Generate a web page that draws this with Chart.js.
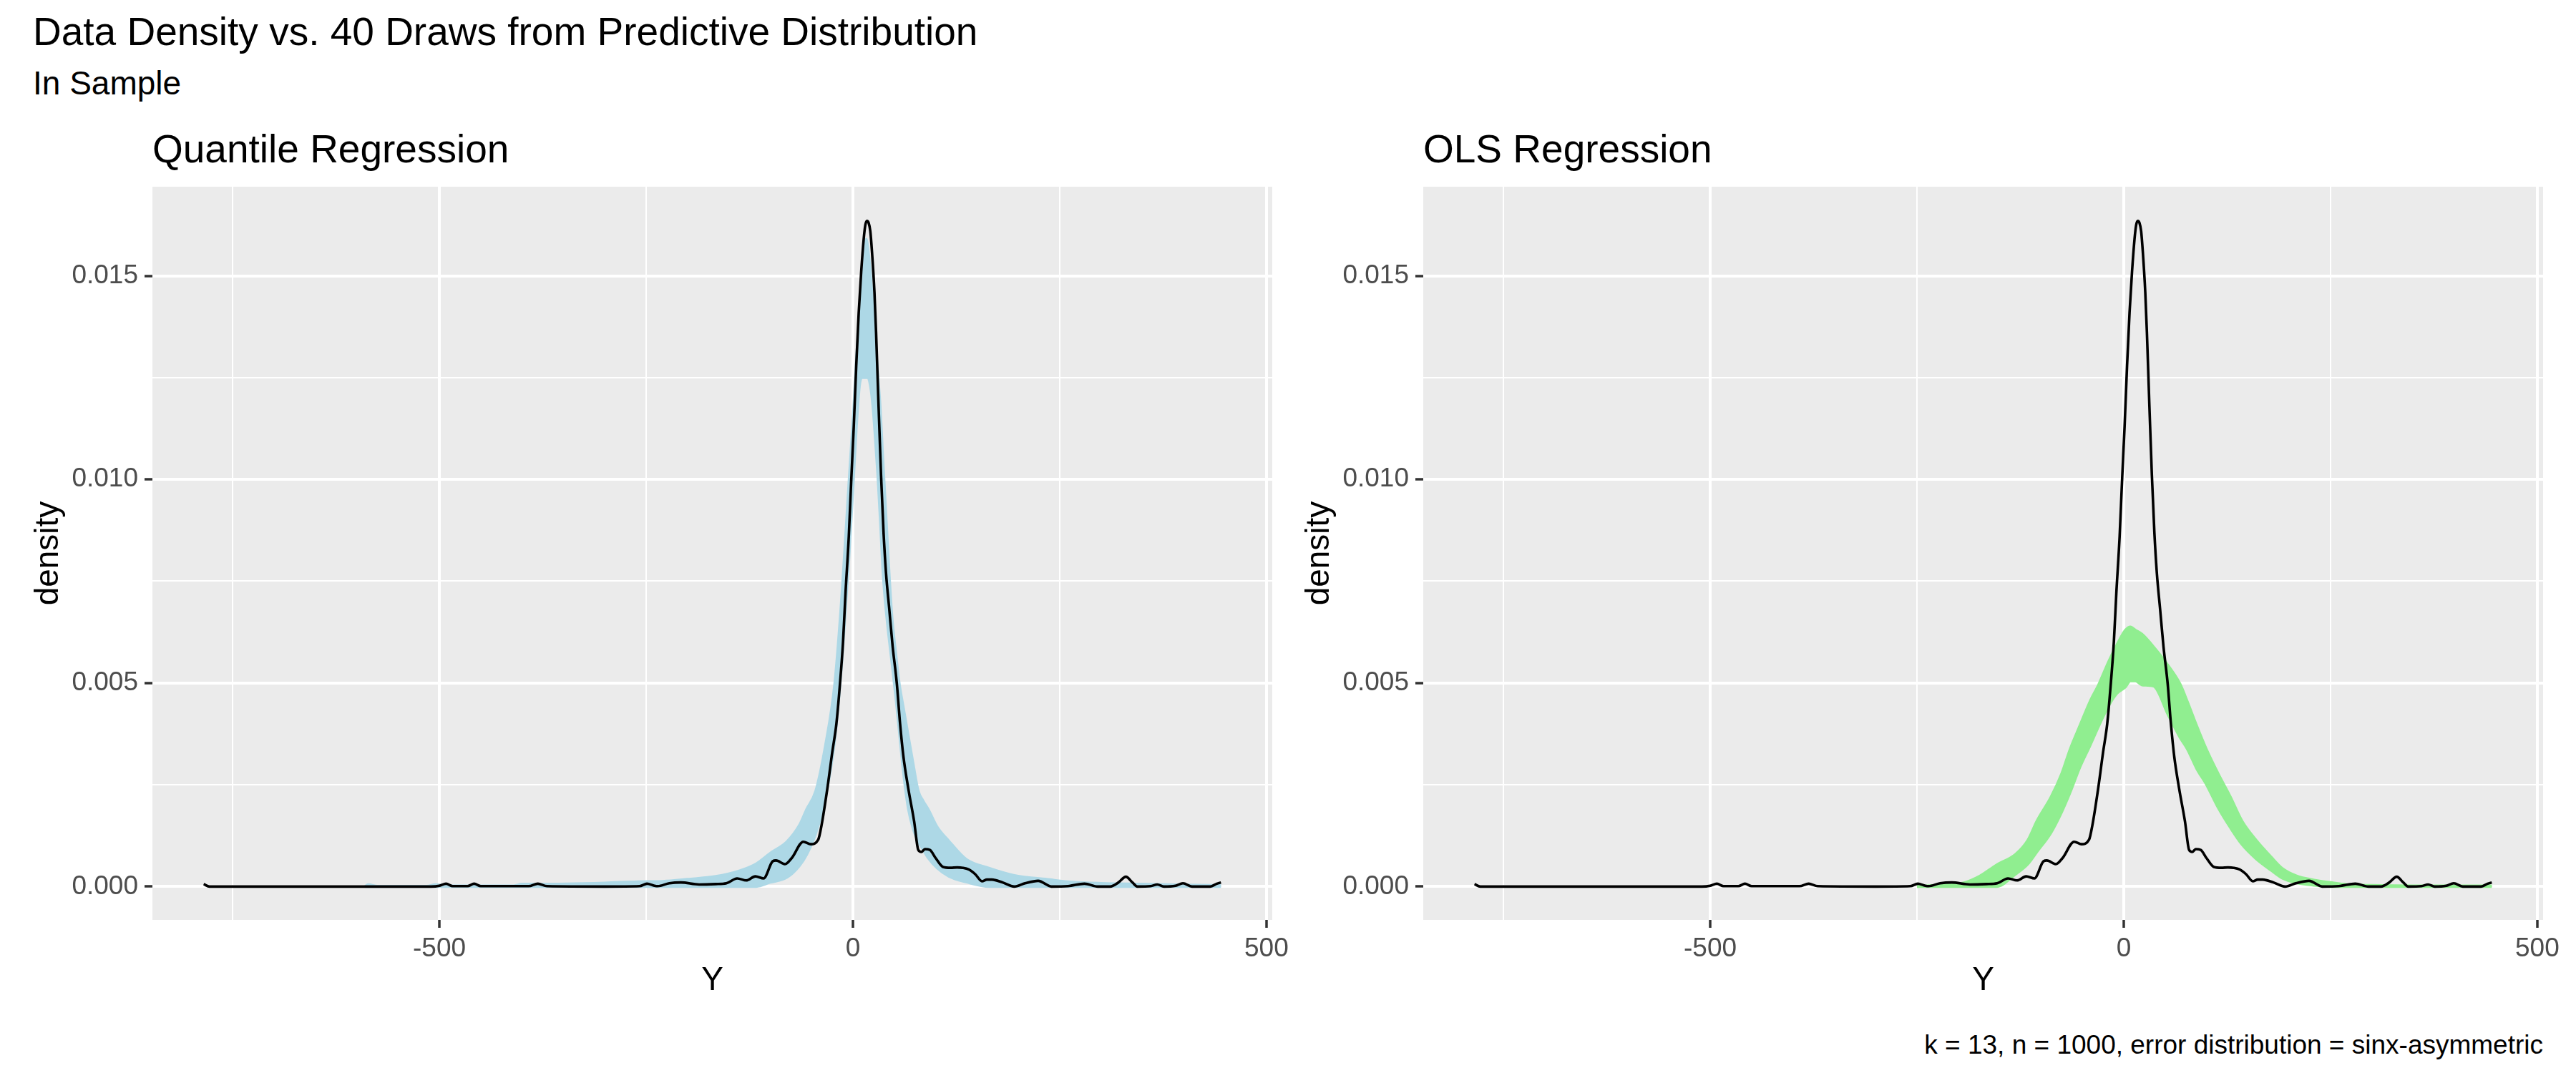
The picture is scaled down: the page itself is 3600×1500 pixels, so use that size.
<!DOCTYPE html>
<html>
<head>
<meta charset="utf-8">
<title>Data Density vs. 40 Draws from Predictive Distribution</title>
<script src="https://cdn.jsdelivr.net/npm/chart.js@4.4.1/dist/chart.umd.min.js"></script>
<style>
    html, body { margin: 0; padding: 0; background: #ffffff; }
    body {
        width: 3600px; height: 1500px; position: relative; overflow: hidden;
        font-family: "Liberation Sans", Arial, sans-serif; color: #000000;
    }
    .txt { position: absolute; white-space: nowrap; line-height: 1; }
    .title { left: 46px; top: 17px; font-size: 55px; }
    .subtitle { left: 46px; top: 93px; font-size: 46px; }
    .panel-title { top: 181px; font-size: 55px; }
    .caption { right: 46px; top: 1442px; font-size: 37px; }
    .chart-box { position: absolute; }
</style>
</head>
<body>
<div class="txt title">Data Density vs. 40 Draws from Predictive Distribution</div>
<div class="txt subtitle">In Sample</div>
<div class="txt panel-title" style="left:213px">Quantile Regression</div>
<div class="txt panel-title" style="left:1989px">OLS Regression</div>
<div class="chart-box" style="left:0px;top:240px;width:1800px;height:1180px"><canvas id="qr"></canvas></div>
<div class="chart-box" style="left:1780px;top:240px;width:1820px;height:1180px"><canvas id="ols"></canvas></div>
<div class="txt caption">k = 13, n = 1000, error distribution = sinx-asymmetric</div>

<script>
/* ---- data ---- */

// kernel density of the observed Y (black line, same in both panels)
const DENS_Y = [-785, -778, -700, -600, -510, -500, -492, -484, -466, -458, -450, -392, -381, -370,
    -300, -258, -249, -240, -236, -222, -208, -186, -166, -153, -140, -129, -118, -108, -97, -93,
    -82, -74, -60, -51, -42, -38, -31, -25, -20, -16, -12, -9, -5, -2, 1, 4, 7, 10, 13, 15, 17,
    19, 21, 23, 26, 28, 31, 34, 37, 40, 44, 48, 53, 57, 61, 67, 74, 79, 83, 87, 93, 100, 109,
    118, 126, 133, 140, 148, 156, 162, 168, 181, 195, 208, 224, 240, 260, 280, 296, 311, 321,
    330, 338, 344, 360, 368, 376, 390, 399, 410, 432, 440, 445];
const DENS_D = [0.00006, 0, 0, 0, 0, 0.00002, 0.00007, 0.00001, 0.00001, 0.00007, 0.00001, 0.00001,
    0.00007, 0.00001, 0, 0.00001, 0.00007, 0.00002, 0.00001, 0.00008, 0.0001, 0.00005, 0.00006,
    0.00008, 0.0002, 0.00015, 0.00025, 0.0002, 0.00062, 0.00064, 0.00055, 0.0007, 0.0011, 0.00104,
    0.00115, 0.0015, 0.0024, 0.0033, 0.004, 0.0049, 0.006, 0.0072, 0.0086, 0.01, 0.0113, 0.0128,
    0.0141, 0.0151, 0.0159, 0.01625, 0.01635, 0.0163, 0.0161, 0.0156, 0.0146, 0.0136, 0.0118,
    0.0101, 0.0087, 0.0077, 0.0068, 0.0059, 0.005, 0.004, 0.0032, 0.0024, 0.0016, 0.0009, 0.00085,
    0.00092, 0.0009, 0.0007, 0.00048, 0.00046, 0.00047, 0.00046, 0.00042, 0.0003, 0.00013, 0.00017,
    0.00017, 0.0001, 0, 0.00008, 0.00014, 0, 0.00001, 0.00007, 0, 0, 0.0001, 0.00024, 0.0001, 0,
    0.00001, 0.00005, 0, 0.00002, 0.00008, 0, 0, 0.00007, 0.0001];

// quantile regression draws: outer and inner edge of the 40 light blue curves
const QR_Y = [-590, -586, -575, -515, -505, -490, -410, -400, -380, -300, -260, -230, -200, -166,
    -137, -117, -100, -80, -65, -56, -45, -33, -22, -13, -5, 1, 4, 8, 11, 14, 16, 18, 21, 24, 27,
    30, 33, 36, 39, 43, 47, 52, 56, 61, 67, 73, 79, 85, 91, 102, 116, 137, 165, 194, 238, 266,
    300, 350, 400, 445];
const QR_HIGH = [0, 0.00005, 0.00001, 0.00001, 0.00005, 0.00002, 0.00002, 0.00006, 0.00006, 0.00009,
    0.00012, 0.00013, 0.00018, 0.00025, 0.00039, 0.00056, 0.00082, 0.0011, 0.0015, 0.0019, 0.00235,
    0.0035, 0.005, 0.0073, 0.0099, 0.0118, 0.0129, 0.014, 0.0148, 0.0156, 0.0159, 0.0157, 0.0151,
    0.0143, 0.0134, 0.0126, 0.0118, 0.0106, 0.0095, 0.008, 0.0067, 0.0057, 0.005, 0.0044, 0.0037,
    0.003, 0.00235, 0.0021, 0.0019, 0.00146, 0.00112, 0.00067, 0.00045, 0.00028, 0.00017, 0.00011,
    0.00008, 0.00006, 0.00004, 0.00003];
const QR_LOW = [0, 0, 0, 0, 0, 0, 0, 0, 0, 0, 0, 0, 0, 0, 0, 0, 0.0001, 0.00022, 0.0005, 0.00078,
    0.0013, 0.0022, 0.0036, 0.0056, 0.008, 0.0101, 0.0112, 0.0123, 0.0125, 0.0125, 0.0125, 0.0125,
    0.0123, 0.0118, 0.011, 0.0101, 0.009, 0.0078, 0.007, 0.0062, 0.0055, 0.0046, 0.0038, 0.0028,
    0.0019, 0.0014, 0.0011, 0.0009, 0.0007, 0.00045, 0.00025, 0.00011, 0, 0, 0, 0, 0, 0, 0, 0];

// OLS draws: outer and inner edge of the 40 light green curves
const OLS_Y = [-250, -222, -194, -174, -154, -131, -116, -105, -88, -75, -65, -53, -41, -30, -18,
    -8, 2, 8, 14, 22, 36, 54, 68, 77, 88, 100, 114, 129, 143, 160, 178, 192, 209, 230, 250, 270,
    300, 350, 445];
const OLS_HIGH = [0, 0.00004, 0.00009, 0.00026, 0.00053, 0.00079, 0.00114, 0.00161, 0.0022,
    0.00278, 0.00337, 0.00396, 0.00454, 0.00498, 0.00554, 0.00595, 0.0063, 0.00638, 0.0063, 0.0062,
    0.00589, 0.00542, 0.00498, 0.00454, 0.00396, 0.00337, 0.00278, 0.0022, 0.00161, 0.00114,
    0.00073, 0.00044, 0.00026, 0.00016, 0.0001, 0.00005, 0.00003, 0.00002, 0.00002];
const OLS_LOW = [0, 0, 0, 0, 0, 0.0003, 0.00055, 0.00085, 0.00132, 0.00183, 0.0023, 0.00293,
    0.00345, 0.00395, 0.00445, 0.00475, 0.0049, 0.00505, 0.00505, 0.00495, 0.00492, 0.0042,
    0.00366, 0.00337, 0.0029, 0.0025, 0.00194, 0.00144, 0.00103, 0.00068, 0.0004, 0.0002, 0.00009,
    0.00003, 0, 0, 0, 0, 0];

// axis breaks
const X_MAJOR = [-500, 0, 500];
const X_MINOR = [-750, -250, 250];
const Y_MAJOR = [0, 0.005, 0.010, 0.015];
const Y_MINOR = [0.0025, 0.0075, 0.0125];

/* ---- drawing ---- */

const COLORS = {
    panel: "#EBEBEB",
    grid: "#FFFFFF",
    tick: "#333333",
    tickText: "#4D4D4D",
    data: "#000000",
    qr: "#ADD8E6",
    ols: "#90EE90",
};
const FONT = "'Liberation Sans', Arial, sans-serif";

const toPoints = (xs, ys) => xs.map((x, i) => ({ x, y: ys[i] }));
const sorted = (a, b) => a.concat(b).sort((p, q) => p - q);

const panelBackground = {
    id: "panelBackground",
    beforeDraw(chart) {
        const { ctx, chartArea: a } = chart;
        ctx.save();
        ctx.fillStyle = COLORS.panel;
        ctx.fillRect(a.left, a.top, a.right - a.left, a.bottom - a.top);
        ctx.restore();
    },
};

function axis(major, minor, range, opts) {
    const isMajor = (v) => major.includes(v);
    return {
        type: "linear",
        min: range[0],
        max: range[1],
        afterBuildTicks: (s) => { s.ticks = sorted(major, minor).map((v) => ({ value: v })); },
        afterFit: (s) => {
            opts.fit(s);
            // labels may hang past the panel edge, like ggplot
            s.paddingTop = s.paddingBottom = s.paddingLeft = s.paddingRight = 0;
        },
        border: { display: false },
        grid: {
            color: COLORS.grid,
            lineWidth: (c) => (c.tick && isMajor(c.tick.value) ? 4 : 2),
            tickColor: (c) => (c.tick && isMajor(c.tick.value) ? COLORS.tick : "rgba(0,0,0,0)"),
            tickWidth: 3.5,
            tickLength: 11,
        },
        ticks: {
            autoSkip: false,
            maxRotation: 0,
            padding: opts.pad,
            color: COLORS.tickText,
            font: { family: FONT, size: 37 },
            callback: (v) => (isMajor(v) ? opts.fmt(v) : ""),
        },
        title: {
            display: true,
            text: opts.title,
            color: "#000000",
            font: { family: FONT, size: 46 },
            padding: opts.titlePad,
        },
    };
}

function densityPanel(id, bandX, bandHigh, bandLow, bandColor, geom) {
    const line = (data, color, width, extra) => Object.assign({
        data,
        borderColor: color,
        borderWidth: width,
        pointRadius: 0,
        cubicInterpolationMode: "monotone",
        fill: false,
    }, extra || {});

    return new Chart(document.getElementById(id), {
        type: "line",
        data: {
            datasets: [
                line(toPoints(DENS_Y, DENS_D), COLORS.data, 3.6),
                line(toPoints(bandX, bandHigh), bandColor, 3.6, { fill: "+1", backgroundColor: bandColor }),
                line(toPoints(bandX, bandLow), bandColor, 3.6),
            ],
        },
        options: {
            responsive: true,
            maintainAspectRatio: false,
            animation: false,
            events: [],
            layout: { padding: { top: 21, right: geom.right, left: 0, bottom: 0 } },
            plugins: { legend: { display: false }, tooltip: { enabled: false } },
            scales: {
                x: axis(X_MAJOR, X_MINOR, [-847, 507], {
                    fit: (s) => { s.height = 134; },
                    pad: 8,
                    fmt: (v) => String(v),
                    title: "Y",
                    titlePad: { top: 0, bottom: 21 },
                }),
                y: axis(Y_MAJOR, Y_MINOR, [-0.00082, 0.01719], {
                    fit: (s) => { s.width = geom.yWidth; },
                    pad: 9,
                    fmt: (v) => v.toFixed(3),
                    title: "density",
                    titlePad: { top: geom.yTitle, bottom: 0 },
                }),
            },
        },
        plugins: [panelBackground],
    });
}

densityPanel("qr", QR_Y, QR_HIGH, QR_LOW, COLORS.qr, { yWidth: 213, right: 22, yTitle: 41 });
densityPanel("ols", OLS_Y, OLS_HIGH, OLS_LOW, COLORS.ols, { yWidth: 209, right: 46, yTitle: 37 });
</script>
</body>
</html>
